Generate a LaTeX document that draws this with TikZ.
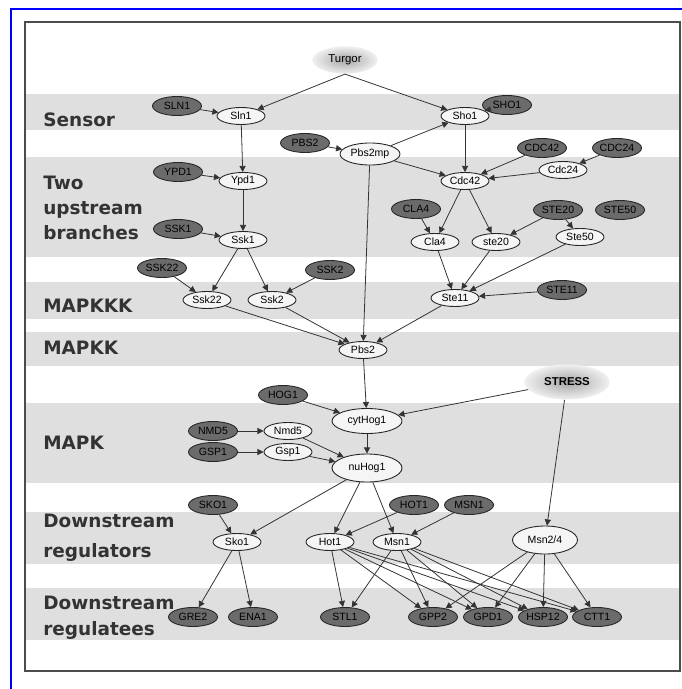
\documentclass[tikz,border=0pt]{standalone}
\usepackage{fontspec}
\setmainfont{Liberation Sans}
\newfontfamily\bandfont{DejaVu Sans}
\usetikzlibrary{shapes.geometric,arrows.meta}

\begin{document}
\begin{tikzpicture}[x=0.02cm,y=-0.02cm,
  band/.style={fill=gray!25,draw=none},
  lbl/.style={anchor=west,font=\bandfont\bfseries\fontsize{10.5}{14}\selectfont,text=black!80,align=left,inner sep=0pt},
  prot/.style={ellipse,draw=black!85,fill=gray!8,line width=0.5pt,inner sep=0pt,minimum width=0.96cm,minimum height=0.34cm,font=\fontsize{6}{7}\selectfont},
  gene/.style={ellipse,draw=black!85,fill=black!58,line width=0.5pt,inner sep=0pt,minimum width=0.98cm,minimum height=0.38cm,font=\fontsize{6}{7}\selectfont},
  signal/.style={ellipse,inner sep=0pt,inner color=gray!70,outer color=gray!12,font=\fontsize{6.5}{7}\selectfont},
  link/.style={-{Triangle[length=3.5pt,width=3.5pt]},line width=0.45pt,draw=black!80}]

\useasboundingbox (0,0) rectangle (682,689);

\fill[band] (26,94) rectangle (679,130);
\fill[band] (26,157) rectangle (679,257);
\fill[band] (26,282) rectangle (679,319);
\fill[band] (26,332) rectangle (679,366);
\fill[band] (26,403) rectangle (679,483);
\fill[band] (26,512) rectangle (679,564);
\fill[band] (26,588) rectangle (679,640);
\draw[black!70,line width=1.2pt] (25,22) rectangle (680,671);
\draw[blue,line width=1.6pt] (11,700) -- (11,9) -- (700,9);

\node[lbl] (lsensor) at (43,120) {Sensor};
\node[lbl] (lbranch) at (43,208) {Two\\upstream\\branches};
\node[lbl] (lmapkkk) at (43,306) {MAPKKK};
\node[lbl] (lmapkk) at (43,348) {MAPKK};
\node[lbl] (lmapk) at (43,443) {MAPK};
\node[lbl] (lregs) at (43,538) {Downstream\\[3pt]regulators};
\node[lbl] (lregd) at (43,618) {Downstream\\[1pt]regulatees};

\node[signal,minimum width=1.3cm,minimum height=0.55cm] (turgor) at (345,60) {Turgor};
\node[signal,font=\bfseries\fontsize{6.5}{7}\selectfont,minimum width=1.7cm,minimum height=0.7cm] (stress) at (567,382) {STRESS};

\node[gene] (gsln1) at (177,106) {SLN1};
\node[prot] (sln1) at (241,116) {Sln1};
\node[prot] (sho1) at (465,116) {Sho1};
\node[gene] (gsho1) at (507,105) {SHO1};
\node[gene] (gpbs2) at (305,143) {PBS2};
\node[prot,minimum width=1.2cm,minimum height=0.44cm] (pbs2mp) at (370,154) {Pbs2mp};
\node[gene] (gcdc42) at (542,148) {CDC42};
\node[gene] (gcdc24) at (617,148) {CDC24};
\node[gene] (gypd1) at (178,172) {YPD1};
\node[prot] (ypd1) at (243,181) {Ypd1};
\node[prot] (cdc42) at (465,181) {Cdc42};
\node[prot] (cdc24) at (563,170) {Cdc24};
\node[gene] (gcla4) at (416,209) {CLA4};
\node[gene] (gste20) at (558,210) {STE20};
\node[gene] (gste50) at (620,210) {STE50};
\node[gene] (gssk1) at (178,229) {SSK1};
\node[prot] (ssk1) at (243,240) {Ssk1};
\node[prot] (cla4) at (435,242) {Cla4};
\node[prot] (ste20) at (496,242) {ste20};
\node[prot] (ste50) at (580,237) {Ste50};
\node[gene] (gssk22) at (162,268) {SSK22};
\node[gene] (gssk2) at (330,270) {SSK2};
\node[prot] (ssk22) at (207,300) {Ssk22};
\node[prot] (ssk2) at (272,300) {Ssk2};
\node[prot] (ste11) at (455,298) {Ste11};
\node[gene] (gste11) at (562,290) {STE11};
\node[prot] (pbs2) at (363,350) {Pbs2};
\node[gene] (ghog1) at (283,395) {HOG1};
\node[prot,minimum width=1.4cm,minimum height=0.5cm] (cythog1) at (367,421) {cytHog1};
\node[gene] (gnmd5) at (213,431) {NMD5};
\node[prot] (nmd5) at (288,431) {Nmd5};
\node[gene] (ggsp1) at (213,452) {GSP1};
\node[prot] (gsp1) at (288,452) {Gsp1};
\node[prot,minimum width=1.4cm,minimum height=0.56cm] (nuhog1) at (367,468) {nuHog1};
\node[gene] (gsko1) at (213,505) {SKO1};
\node[gene] (ghot1) at (414,505) {HOT1};
\node[gene] (gmsn1) at (469,505) {MSN1};
\node[prot] (sko1) at (237,542) {Sko1};
\node[prot] (hot1) at (330,542) {Hot1};
\node[prot] (msn1) at (397,542) {Msn1};
\node[prot,minimum width=1.3cm,minimum height=0.56cm] (msn24) at (545,540) {Msn2/4};
\node[gene] (gre2) at (193,617) {GRE2};
\node[gene] (ena1) at (253,617) {ENA1};
\node[gene] (stl1) at (345,617) {STL1};
\node[gene] (gpp2) at (433,617) {GPP2};
\node[gene] (gpd1) at (488,617) {GPD1};
\node[gene] (hsp12) at (543,617) {HSP12};
\node[gene] (ctt1) at (597,617) {CTT1};

\draw[link] (turgor.south) -- (sln1);
\draw[link] (turgor.south) -- (sho1);
\draw[link] (gsln1) -- (sln1);
\draw[link] (gsho1) -- (sho1);
\draw[link] (sln1) -- (ypd1);
\draw[link] (gypd1) -- (ypd1);
\draw[link] (ypd1) -- (ssk1);
\draw[link] (gssk1) -- (ssk1);
\draw[link] (gpbs2) -- (pbs2mp);
\draw[link] (pbs2mp) -- (sho1);
\draw[link] (pbs2mp) -- (cdc42);
\draw[link] (pbs2mp) -- (pbs2);
\draw[link] (sho1) -- (cdc42);
\draw[link] (gcdc42) -- (cdc42);
\draw[link] (cdc24) -- (cdc42);
\draw[link] (gcdc24) -- (cdc24);
\draw[link] (cdc42) -- (cla4);
\draw[link] (cdc42) -- (ste20);
\draw[link] (gcla4) -- (cla4);
\draw[link] (gste20) -- (ste20);
\draw[link] (gste20) -- (ste50);
\draw[link] (cla4) -- (ste11);
\draw[link] (ste20) -- (ste11);
\draw[link] (ste50) -- (ste11);
\draw[link] (gste11) -- (ste11);
\draw[link] (ssk1) -- (ssk22);
\draw[link] (ssk1) -- (ssk2);
\draw[link] (gssk22) -- (ssk22);
\draw[link] (gssk2) -- (ssk2);
\draw[link] (ssk22) -- (pbs2);
\draw[link] (ssk2) -- (pbs2);
\draw[link] (ste11) -- (pbs2);
\draw[link] (pbs2) -- (cythog1);
\draw[link] (ghog1) -- (cythog1);
\draw[link] (stress) -- (cythog1);
\draw[link] (stress) -- (msn24);
\draw[link] (gnmd5) -- (nmd5);
\draw[link] (ggsp1) -- (gsp1);
\draw[link] (nmd5) -- (nuhog1);
\draw[link] (gsp1) -- (nuhog1);
\draw[link] (cythog1) -- (nuhog1);
\draw[link] (nuhog1) -- (sko1);
\draw[link] (nuhog1) -- (hot1);
\draw[link] (nuhog1) -- (msn1);
\draw[link] (gsko1) -- (sko1);
\draw[link] (ghot1) -- (hot1);
\draw[link] (gmsn1) -- (msn1);
\draw[link] (sko1) -- (gre2);
\draw[link] (sko1) -- (ena1);
\draw[link] (hot1) -- (stl1);
\draw[link] (hot1) -- (gpp2);
\draw[link] (hot1) -- (gpd1);
\draw[link] (hot1) -- (hsp12);
\draw[link] (hot1) -- (ctt1);
\draw[link] (msn1) -- (stl1);
\draw[link] (msn1) -- (gpp2);
\draw[link] (msn1) -- (gpd1);
\draw[link] (msn1) -- (hsp12);
\draw[link] (msn1) -- (ctt1);
\draw[link] (msn24) -- (gpp2);
\draw[link] (msn24) -- (gpd1);
\draw[link] (msn24) -- (hsp12);
\draw[link] (msn24) -- (ctt1);
\end{tikzpicture}
\end{document}
